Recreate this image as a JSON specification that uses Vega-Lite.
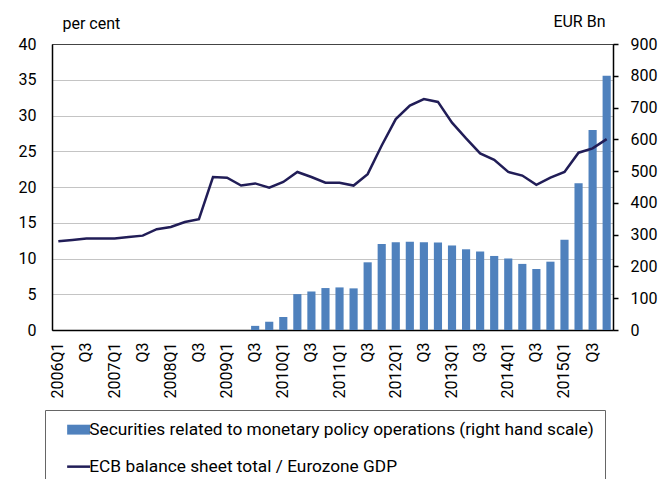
{
  "$schema": "https://vega.github.io/schema/vega-lite/v6.json",
  "width": 561,
  "height": 286,
  "autosize": {"type": "none"},
  "padding": {"left": 52, "top": 44, "right": 47, "bottom": 149},
  "config": {
    "font": "Roboto",
    "view": {"stroke": "black", "strokeWidth": 1},
    "axis": {"labelFont": "Roboto", "labelFontSize": 16, "labelColor": "black", "titleFont": "Roboto", "titleFontSize": 16, "titleFontWeight": "normal", "titleColor": "black", "domainColor": "black", "domainWidth": 1.5}
  },
  "data": {"values": [
    {"q": "2006Q1", "sec": null, "ratio": 12.4},
    {"q": "2006Q2", "sec": null, "ratio": 12.6},
    {"q": "2006Q3", "sec": null, "ratio": 12.8},
    {"q": "2006Q4", "sec": null, "ratio": 12.8},
    {"q": "2007Q1", "sec": null, "ratio": 12.8},
    {"q": "2007Q2", "sec": null, "ratio": 13.0},
    {"q": "2007Q3", "sec": null, "ratio": 13.2},
    {"q": "2007Q4", "sec": null, "ratio": 14.1},
    {"q": "2008Q1", "sec": null, "ratio": 14.4},
    {"q": "2008Q2", "sec": null, "ratio": 15.1},
    {"q": "2008Q3", "sec": null, "ratio": 15.5},
    {"q": "2008Q4", "sec": null, "ratio": 21.4},
    {"q": "2009Q1", "sec": null, "ratio": 21.3},
    {"q": "2009Q2", "sec": null, "ratio": 20.2},
    {"q": "2009Q3", "sec": 13, "ratio": 20.5},
    {"q": "2009Q4", "sec": 26, "ratio": 19.9},
    {"q": "2010Q1", "sec": 41, "ratio": 20.7},
    {"q": "2010Q2", "sec": 113, "ratio": 22.1},
    {"q": "2010Q3", "sec": 121, "ratio": 21.4},
    {"q": "2010Q4", "sec": 132, "ratio": 20.6},
    {"q": "2011Q1", "sec": 134, "ratio": 20.6},
    {"q": "2011Q2", "sec": 131, "ratio": 20.2},
    {"q": "2011Q3", "sec": 213, "ratio": 21.8},
    {"q": "2011Q4", "sec": 271, "ratio": 25.8},
    {"q": "2012Q1", "sec": 276, "ratio": 29.5},
    {"q": "2012Q2", "sec": 278, "ratio": 31.4},
    {"q": "2012Q3", "sec": 276, "ratio": 32.3},
    {"q": "2012Q4", "sec": 275, "ratio": 31.9},
    {"q": "2013Q1", "sec": 266, "ratio": 29.0},
    {"q": "2013Q2", "sec": 254, "ratio": 26.8},
    {"q": "2013Q3", "sec": 247, "ratio": 24.7},
    {"q": "2013Q4", "sec": 233, "ratio": 23.8},
    {"q": "2014Q1", "sec": 225, "ratio": 22.1},
    {"q": "2014Q2", "sec": 208, "ratio": 21.6},
    {"q": "2014Q3", "sec": 192, "ratio": 20.3},
    {"q": "2014Q4", "sec": 215, "ratio": 21.3},
    {"q": "2015Q1", "sec": 284, "ratio": 22.1},
    {"q": "2015Q2", "sec": 462, "ratio": 24.8},
    {"q": "2015Q3", "sec": 629, "ratio": 25.4},
    {"q": "2015Q4", "sec": 800, "ratio": 26.7}
  ]},
  "encoding": {
    "x": {
      "field": "q", "type": "ordinal", "sort": "ascending",
      "scale": {"paddingInner": 0.42, "paddingOuter": 0.16},
      "axis": {
        "title": null, "labelAngle": -90, "ticks": false, "tickSize": 0, "labelPadding": 12, "labelOverlap": false,
        "labelExpr": "slice(datum.value, 4) == 'Q1' ? datum.value : (slice(datum.value, 4) == 'Q3' ? 'Q3' : '')"
      }
    }
  },
  "layer": [
    {
      "mark": {"type": "bar", "color": "#4F81BD"},
      "encoding": {
        "y": {
          "field": "sec", "type": "quantitative",
          "scale": {"domain": [0, 900], "nice": false},
          "axis": {"orient": "right", "values": [0, 100, 200, 300, 400, 500, 600, 700, 800, 900], "grid": false, "ticks": true, "tickSize": 5, "tickColor": "black", "tickWidth": 1.5, "labelPadding": 12, "title": "EUR Bn", "titleAngle": 0, "titleAlign": "right", "titleBaseline": "alphabetic", "titleX": -8, "titleY": -18}
        },
        "color": {
          "datum": "Securities related to monetary policy operations (right hand scale)",
          "type": "nominal",
          "scale": {"domain": ["Securities related to monetary policy operations (right hand scale)", "ECB balance sheet total / Eurozone GDP"], "range": ["#4F81BD", "#211D57"]},
          "legend": {
            "title": null, "orient": "none", "legendX": -7, "legendY": 366, "direction": "vertical",
            "strokeColor": "#666", "padding": 11, "symbolOffset": 14, "labelOffset": 2,
            "labelFont": "Roboto", "labelFontSize": 17.3, "labelColor": "black", "rowPadding": 19, "labelLimit": 700,
            "symbolSize": 529,
            "encode": {"symbols": {"update": {
              "shape": {"signal": "datum.value === 'ECB balance sheet total / Eurozone GDP' ? 'M-1,0H1' : 'M-1,-0.43H1V0.43H-1Z'"},
              "fill": {"signal": "datum.value === 'ECB balance sheet total / Eurozone GDP' ? 'transparent' : '#4F81BD'"},
              "stroke": {"signal": "datum.value === 'ECB balance sheet total / Eurozone GDP' ? '#211D57' : '#4F81BD'"},
              "strokeWidth": {"signal": "datum.value === 'ECB balance sheet total / Eurozone GDP' ? 2.5 : 0"},
              "opacity": {"value": 1}
            }}}
          }
        }
      }
    },
    {
      "mark": {"type": "line", "strokeWidth": 2.5, "color": "#211D57"},
      "encoding": {
        "y": {
          "field": "ratio", "type": "quantitative",
          "scale": {"domain": [0, 40], "nice": false},
          "axis": {"orient": "left", "values": [0, 5, 10, 15, 20, 25, 30, 35, 40], "grid": true, "gridColor": "#888", "gridDash": [1, 1], "gridWidth": 1, "ticks": false, "tickSize": 0, "labelPadding": 16, "title": "per cent", "titleAngle": 0, "titleAlign": "left", "titleBaseline": "alphabetic", "titleX": 10, "titleY": -16}
        },
        "color": {"datum": "ECB balance sheet total / Eurozone GDP", "type": "nominal"}
      }
    }
  ],
  "resolve": {"scale": {"y": "independent"}}
}
